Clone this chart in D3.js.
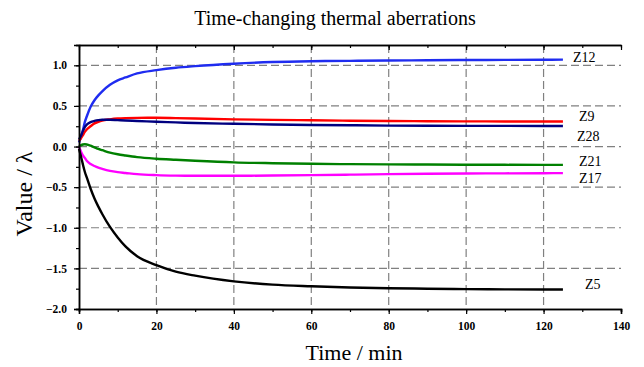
<!DOCTYPE html>
<html>
<head>
<meta charset="utf-8">
<script src="https://cdn.jsdelivr.net/npm/d3@7"></script>
<style>
  body { margin: 0; background: #fff; }
</style>
</head>
<body>
<div id="chart"></div>
<script>
// time axis (minutes) shared by every aberration series
const times = [0, 0.5, 1, 1.5, 2, 3, 4, 5, 6, 8, 10, 12, 15, 20, 25, 30, 40, 50, 60, 70, 80, 90, 100, 110, 120, 125];

// values in waves
const z12 = [0.05, 0.12, 0.2, 0.3, 0.37, 0.49, 0.57, 0.63, 0.68, 0.76, 0.815, 0.85, 0.9, 0.94, 0.97, 0.99, 1.02, 1.04, 1.05, 1.055, 1.06, 1.062, 1.065, 1.067, 1.068, 1.07];
const z9 = [0.07, 0.1, 0.14, 0.18, 0.21, 0.25, 0.285, 0.305, 0.32, 0.335, 0.345, 0.35, 0.353, 0.354, 0.35, 0.345, 0.335, 0.328, 0.323, 0.318, 0.314, 0.312, 0.31, 0.309, 0.308, 0.308];
const z28 = [0.09, 0.13, 0.19, 0.24, 0.27, 0.3, 0.315, 0.325, 0.33, 0.33, 0.325, 0.32, 0.315, 0.305, 0.297, 0.29, 0.28, 0.272, 0.266, 0.262, 0.258, 0.256, 0.255, 0.254, 0.253, 0.253];
const z21 = [0.0, 0.015, 0.025, 0.028, 0.025, 0.01, -0.01, -0.03, -0.045, -0.075, -0.095, -0.11, -0.13, -0.15, -0.163, -0.175, -0.195, -0.205, -0.212, -0.217, -0.22, -0.222, -0.224, -0.225, -0.226, -0.226];
const z17 = [0.0, -0.06, -0.11, -0.14, -0.175, -0.215, -0.24, -0.26, -0.275, -0.3, -0.315, -0.325, -0.34, -0.352, -0.358, -0.36, -0.36, -0.357, -0.352, -0.346, -0.34, -0.335, -0.332, -0.33, -0.328, -0.327];
const z5 = [-0.03, -0.12, -0.22, -0.31, -0.38, -0.52, -0.64, -0.74, -0.83, -0.99, -1.12, -1.23, -1.35, -1.46, -1.54, -1.59, -1.66, -1.7, -1.72, -1.735, -1.745, -1.75, -1.755, -1.758, -1.76, -1.76];

const seriesNames = ["Z12", "Z9", "Z28", "Z21", "Z17", "Z5"];
const seriesValues = [z12, z9, z28, z21, z17, z5];

const xTicks = [0, 20, 40, 60, 80, 100, 120, 140];
const yTicks = [-2.0, -1.5, -1.0, -0.5, 0.0, 0.5, 1.0];

// styling per series (colour, label placement in px)
const colors = { Z12: "#1f2cf0", Z9: "#ff0000", Z28: "#000080", Z21: "#008000", Z17: "#ff00ff", Z5: "#000000" };
const labelStyle = {
  Z12: { x: 573, dy: -3 },
  Z9: { x: 579, dy: -5 },
  Z28: { x: 577, dy: 10 },
  Z21: { x: 579, dy: -4 },
  Z17: { x: 579, dy: 5 },
  Z5: { x: 585, dy: -5 }
};

const SERIF = "'Liberation Serif', 'Times New Roman', serif";
const W = 644, H = 367;
const svg = d3.select("#chart").append("svg")
  .attr("width", W)
  .attr("height", H);

const x = d3.scaleLinear().domain([0, 140]).range([79, 621]);
const y = d3.scaleLinear().domain([-2, 1.25]).range([309, 45]);

// dashed grid
const grid = svg.append("g")
  .attr("stroke", "#808080")
  .attr("stroke-width", 1.2)
  .attr("stroke-dasharray", "8,4");
grid.selectAll("line.v")
  .data(xTicks.filter(d => d > 0 && d < 140))
  .join("line")
  .attr("x1", d => x(d)).attr("x2", d => x(d))
  .attr("y1", y(1.25)).attr("y2", y(-2));
grid.selectAll("line.h")
  .data(yTicks.filter(d => d > -2))
  .join("line")
  .attr("x1", x(0)).attr("x2", x(140))
  .attr("y1", d => y(d)).attr("y2", d => y(d));

// curves
const line = d3.line()
  .x(d => x(d[0]))
  .y(d => y(d[1]))
  .curve(d3.curveMonotoneX);

seriesNames.forEach((name, i) => {
  const pts = times.map((t, j) => [t, seriesValues[i][j]]);
  svg.append("path")
    .datum(pts)
    .attr("fill", "none")
    .attr("stroke", colors[name])
    .attr("stroke-width", 2.4)
    .attr("d", line);
});

// axes
const xMinor = d3.range(0, 141, 10);
const yMinor = d3.range(-2, 1.26, 0.25);

function styleAxis(g) {
  g.select(".domain").attr("stroke", "#000").attr("stroke-width", 1.5);
  g.selectAll(".tick line").attr("stroke", "#000").attr("stroke-width", 1.2);
  g.selectAll(".tick text")
    .style("font-family", SERIF)
    .style("font-weight", "bold")
    .style("font-size", "11.5px")
    .attr("fill", "#000");
}

// bottom
svg.append("g")
  .attr("transform", `translate(0,${y(-2)})`)
  .call(d3.axisBottom(x).tickValues(xMinor).tickSize(3).tickFormat(""))
  .call(styleAxis);
svg.append("g")
  .attr("transform", `translate(0,${y(-2)})`)
  .call(d3.axisBottom(x).tickValues(xTicks).tickSize(5).tickPadding(8).tickFormat(d3.format("d")))
  .call(styleAxis);

// top (ticks inward, no labels)
svg.append("g")
  .attr("transform", `translate(0,${y(1.25)})`)
  .call(d3.axisBottom(x).tickValues(xMinor).tickSize(3).tickSizeOuter(0).tickFormat(""))
  .call(styleAxis);
svg.append("g")
  .attr("transform", `translate(0,${y(1.25)})`)
  .call(d3.axisBottom(x).tickValues(xTicks).tickSize(5).tickSizeOuter(0).tickFormat(""))
  .call(styleAxis);

// left
svg.append("g")
  .attr("transform", `translate(${x(0)},0)`)
  .call(d3.axisLeft(y).tickValues(yMinor).tickSize(3).tickFormat(""))
  .call(styleAxis);
svg.append("g")
  .attr("transform", `translate(${x(0)},0)`)
  .call(d3.axisLeft(y).tickValues(yTicks).tickSize(5).tickPadding(7).tickFormat(d3.format(".1f")))
  .call(styleAxis);

// series labels
seriesNames.forEach((name, i) => {
  const vals = seriesValues[i];
  svg.append("text")
    .attr("x", labelStyle[name].x)
    .attr("y", y(vals[vals.length - 1]) + labelStyle[name].dy)
    .attr("dy", "0.35em")
    .style("font-family", SERIF)
    .style("font-size", "14px")
    .attr("fill", "#000")
    .text(name);
});

// titles
svg.append("text")
  .attr("x", 335).attr("y", 25)
  .attr("text-anchor", "middle")
  .style("font-family", SERIF)
  .style("font-size", "20px")
  .text("Time-changing thermal aberrations");

svg.append("text")
  .attr("x", 354).attr("y", 360)
  .attr("text-anchor", "middle")
  .style("font-family", SERIF)
  .style("font-size", "22px")
  .text("Time / min");

svg.append("text")
  .attr("transform", "translate(32,194) rotate(-90)")
  .attr("text-anchor", "middle")
  .style("font-family", SERIF)
  .style("font-size", "24px")
  .text("Value / λ");
</script>
</body>
</html>
